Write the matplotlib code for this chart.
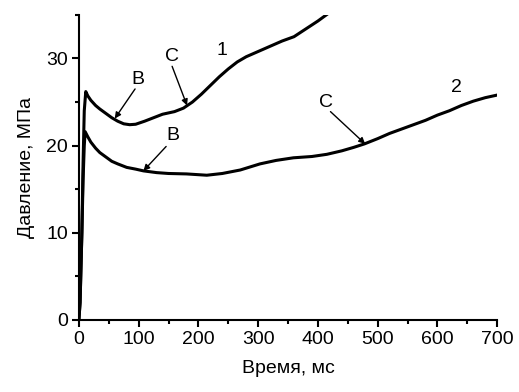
import matplotlib
matplotlib.use('Agg')
import matplotlib.pyplot as plt
from matplotlib.ticker import MultipleLocator

plt.rcParams['font.family'] = ['Liberation Sans', 'DejaVu Sans']

# кривая 1
t1 = [0, 2, 5, 7, 9, 11.5, 15, 20, 28, 35, 45, 55, 65, 75, 85, 95, 110, 125,
      140, 160, 175, 190, 205, 220, 235, 250, 265, 280, 300, 320, 340, 360,
      380, 400, 420]
p1 = [0, 2, 10, 18, 24, 26.2, 25.7, 25.2, 24.6, 24.2, 23.7, 23.2, 22.8, 22.5,
      22.4, 22.45, 22.8, 23.2, 23.6, 23.9, 24.3, 25.0, 25.9, 26.9, 27.9, 28.8,
      29.6, 30.2, 30.8, 31.4, 32.0, 32.5, 33.4, 34.3, 35.3]

# кривая 2
t2 = [0, 2, 5, 7, 9, 10.5, 15, 20, 28, 35, 45, 55, 65, 80, 95, 108, 130, 150,
      180, 214, 240, 270, 303, 330, 359, 390, 415, 440, 460, 478, 500, 520,
      540, 560, 580, 600, 620, 640, 660, 680, 700]
p2 = [0, 2, 10, 16, 20, 21.6, 21.0, 20.4, 19.7, 19.2, 18.7, 18.2, 17.9, 17.5,
      17.3, 17.1, 16.9, 16.8, 16.75, 16.6, 16.8, 17.2, 17.9, 18.3, 18.6,
      18.75, 19.0, 19.4, 19.8, 20.2, 20.8, 21.4, 21.9, 22.4, 22.9, 23.5, 24.0,
      24.6, 25.1, 25.5, 25.8]

# подписи: текст, положение текста, начало стрелки, конец стрелки
labels = [
    ('B', (99, 27.6), (94, 26.5), (60, 23.1)),
    ('C', (156, 30.2), (156, 29.1), (181, 24.6)),
    ('B', (157, 21.2), (146, 19.9), (108, 17.1)),
    ('C', (413, 24.9), (421, 23.9), (479, 20.2)),
]
curve_names = [('1', (239, 30.9)), ('2', (632, 26.7))]

fig = plt.figure(figsize=(5.19, 3.92), dpi=100)
ax = fig.add_axes([0.152, 0.184, 0.806, 0.778])

ax.plot(t1, p1, color='black', lw=2.2, solid_joinstyle='round')
ax.plot(t2, p2, color='black', lw=2.2, solid_joinstyle='round')

for txt, pos, tail, tip in labels:
    ax.text(pos[0], pos[1], txt, fontsize=14, ha='center', va='center')
    ax.annotate('', xy=tip, xytext=tail,
                arrowprops=dict(arrowstyle='-|>', color='black', lw=1,
                                mutation_scale=9, shrinkA=0, shrinkB=0))
for txt, pos in curve_names:
    ax.text(pos[0], pos[1], txt, fontsize=14, ha='center', va='center')

ax.set_xlim(0, 700)
ax.set_ylim(0, 35)
ax.xaxis.set_major_locator(MultipleLocator(100))
ax.xaxis.set_minor_locator(MultipleLocator(50))
ax.yaxis.set_major_locator(MultipleLocator(10))
ax.yaxis.set_minor_locator(MultipleLocator(5))

for s in ['top', 'right']:
    ax.spines[s].set_visible(False)
for s in ['left', 'bottom']:
    ax.spines[s].set_linewidth(1.5)
ax.tick_params(which='major', direction='out', length=5, width=1.5,
               labelsize=14, pad=3)
ax.tick_params(which='minor', direction='out', length=3, width=1.5)

ax.set_xlabel('Время, мс', fontsize=14, labelpad=9)
ax.set_ylabel('Давление, МПа', fontsize=14, labelpad=8)

fig.savefig('out.png', dpi=100)
